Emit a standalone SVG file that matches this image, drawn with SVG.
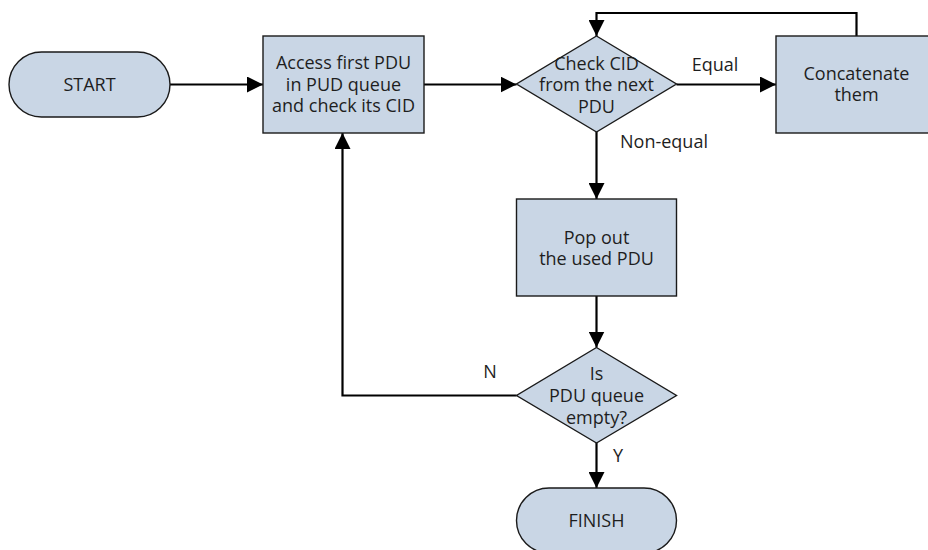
<svg xmlns="http://www.w3.org/2000/svg" width="928" height="550" viewBox="0 0 928 550">
  <style>
    .shape { fill: #c9d6e5; stroke: #1a1a1a; stroke-width: 1.4; }
    .conn { fill: none; stroke: #000; stroke-width: 2.2; }
    text { font-family: "Open Sans", "Noto Sans", "DejaVu Sans", sans-serif; font-size: 18px; fill: #1e1e1e; text-anchor: middle; dominant-baseline: central; }
  </style>
  <defs>
    <marker id="arrow" markerUnits="userSpaceOnUse" markerWidth="16" markerHeight="16" refX="16" refY="8" orient="auto">
      <path d="M0,0 L16,8 L0,16 Z" fill="#000"/>
    </marker>
  </defs>
  <rect width="928" height="550" fill="#fff"/>

  <!-- connectors -->
  <g id="connectors">
    <path class="conn" d="M170,84.5 H263" marker-end="url(#arrow)"/>
    <path class="conn" d="M424,84.5 H516.5" marker-end="url(#arrow)"/>
    <path class="conn" d="M676.5,84.5 H776" marker-end="url(#arrow)"/>
    <path class="conn" d="M856.5,36 V13 H596.5 V36" marker-end="url(#arrow)"/>
    <path class="conn" d="M596.5,132 V199" marker-end="url(#arrow)"/>
    <path class="conn" d="M596.5,296 V347.5" marker-end="url(#arrow)"/>
    <path class="conn" d="M596.5,443 V488" marker-end="url(#arrow)"/>
    <path class="conn" d="M516.5,395.5 H342.5 V133" marker-end="url(#arrow)"/>
    <text x="715" y="64">Equal</text>
    <text x="664" y="141">Non-equal</text>
    <text x="490" y="371">N</text>
    <text x="618" y="455">Y</text>
  </g>

  <g id="start">
    <rect class="shape" x="9" y="52" width="161" height="65" rx="32.5" ry="32.5"/>
    <text x="89.5" y="83.5">START</text>
  </g>

  <g id="access">
    <rect class="shape" x="263" y="36" width="161" height="97"/>
    <text x="343.5" y="62">Access first PDU</text>
    <text x="343.5" y="83.5">in PUD queue</text>
    <text x="343.5" y="105">and check its CID</text>
  </g>

  <g id="check">
    <polygon class="shape" points="596.5,36 676.5,84 596.5,132 516.5,84"/>
    <text x="596.5" y="63">Check CID</text>
    <text x="596.5" y="84">from the next</text>
    <text x="596.5" y="105.5">PDU</text>
  </g>

  <g id="concat">
    <rect class="shape" x="776" y="36" width="161" height="97"/>
    <text x="856.5" y="73">Concatenate</text>
    <text x="856.5" y="94">them</text>
  </g>

  <g id="pop">
    <rect class="shape" x="516.5" y="199" width="160" height="97"/>
    <text x="596.5" y="236.5">Pop out</text>
    <text x="596.5" y="257.5">the used PDU</text>
  </g>

  <g id="empty">
    <polygon class="shape" points="596.5,347.5 676.5,395.5 596.5,443 516.5,395.5"/>
    <text x="596.5" y="373">Is</text>
    <text x="596.5" y="395">PDU queue</text>
    <text x="596.5" y="417">empty?</text>
  </g>

  <g id="finish">
    <rect class="shape" x="516.5" y="488" width="160" height="65" rx="32.5" ry="32.5"/>
    <text x="596.5" y="519.5">FINISH</text>
  </g>
</svg>
